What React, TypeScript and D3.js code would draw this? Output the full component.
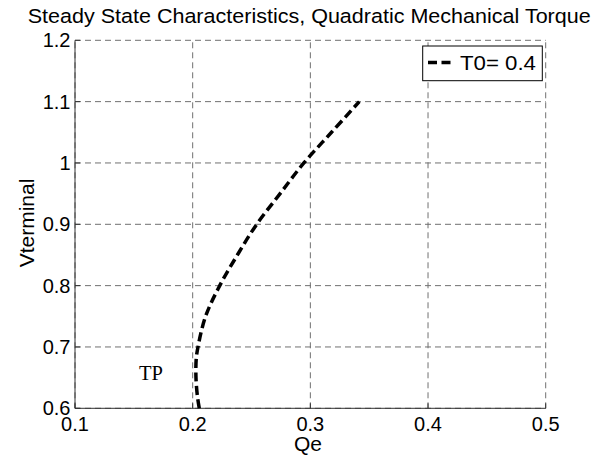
import React from "react";
import * as d3 from "d3";

const voltage = [0.6, 0.62, 0.65, 0.68, 0.7, 0.75, 0.8, 0.85, 0.9, 0.95, 1.0, 1.05, 1.1];
const qe = [0.2056, 0.204, 0.2028, 0.203, 0.2045, 0.211, 0.223, 0.238, 0.2544, 0.2743, 0.2945, 0.318, 0.3416];
const xTicks = [0.1, 0.2, 0.3, 0.4, 0.5];
const yTicks = [0.6, 0.7, 0.8, 0.9, 1.0, 1.1, 1.2];
const titleText = "Steady State Characteristics, Quadratic Mechanical Torque";
const xLabel = "Qe";
const yLabel = "Vterminal";
const legendLabel = "T0= 0.4";
const annotation = "TP";

const W = 610;
const H = 458;
const sans = "'Liberation Sans', Arial, Helvetica, sans-serif";

export default function App() {
  const x = d3.scaleLinear().domain([0.1, 0.5]).range([75, 545.7]);
  const y = d3.scaleLinear().domain([0.6, 1.2]).range([408.3, 40.3]);
  const pts: [number, number][] = voltage.map((v, i) => [qe[i], v]);
  const line = d3
    .line<[number, number]>()
    .x((d) => x(d[0]))
    .y((d) => y(d[1]))
    .curve(d3.curveCatmullRom.alpha(0.5));
  const [x0, x1] = x.range();
  const [y0, y1] = y.range();
  const gridColor = "#707070";
  const fmt = (v: number) => (Math.abs(v - 1) < 1e-9 ? "1" : d3.format(".1f")(v));

  return (
    <svg
      width={W}
      height={H}
      viewBox={`0 0 ${W} ${H}`}
      style={{ position: "absolute", left: 0, top: 0, background: "#fff" }}
    >
      <rect x={0} y={0} width={W} height={H} fill="#fff" />
      {/* grid */}
      {xTicks.map((t) => (
        <line
          key={"gx" + t}
          x1={x(t)}
          x2={x(t)}
          y1={y0}
          y2={y1}
          stroke={gridColor}
          strokeWidth={1}
          strokeDasharray="6,4"
        />
      ))}
      {yTicks.map((t) => (
        <line
          key={"gy" + t}
          x1={x0}
          x2={x1}
          y1={y(t)}
          y2={y(t)}
          stroke={gridColor}
          strokeWidth={1}
          strokeDasharray="6,4"
        />
      ))}
      {/* axes */}
      <line x1={x0} x2={x0} y1={y0} y2={y1} stroke="#333" strokeWidth={1} />
      <line x1={x0} x2={x1} y1={y0} y2={y0} stroke="#333" strokeWidth={1} />
      {yTicks.map((t) => (
        <line key={"ty" + t} x1={x0} x2={x0 + 5} y1={y(t)} y2={y(t)} stroke="#333" strokeWidth={1} />
      ))}
      {xTicks.map((t) => (
        <line key={"tx" + t} x1={x(t)} x2={x(t)} y1={y0} y2={y0 - 5} stroke="#333" strokeWidth={1} />
      ))}
      {/* tick labels */}
      {yTicks.map((t) => (
        <text
          key={"ly" + t}
          x={x0 - 4.5}
          y={y(t)}
          dy="0.35em"
          textAnchor="end"
          fontFamily={sans}
          fontSize={20}
          fill="#000"
        >
          {fmt(t)}
        </text>
      ))}
      {xTicks.map((t) => (
        <text
          key={"lx" + t}
          x={x(t)}
          y={430.5}
          textAnchor="middle"
          fontFamily={sans}
          fontSize={20}
          fill="#000"
        >
          {fmt(t)}
        </text>
      ))}
      {/* curve */}
      <path
        d={line(pts) || ""}
        fill="none"
        stroke="#000"
        strokeWidth={3.5}
        strokeDasharray="9,4.5"
      />
      {/* annotation */}
      <text x={139} y={380} fontFamily="'Liberation Serif', 'Times New Roman', serif" fontSize={20.5} fill="#000">
        {annotation}
      </text>
      {/* legend */}
      <rect x={422.7} y={46} width={119.6} height={34.7} fill="#fff" stroke="#000" strokeWidth={1} />
      <line x1={428} x2={455} y1={62.5} y2={62.5} stroke="#000" strokeWidth={3.5} strokeDasharray="9,4.5" />
      <text x={460} y={70} fontFamily={sans} fontSize={21} textLength={76} lengthAdjust="spacingAndGlyphs" fill="#000">
        {legendLabel}
      </text>
      {/* title & labels */}
      <text
        x={309.2}
        y={22.7}
        textAnchor="middle"
        fontFamily={sans}
        fontSize={20.5}
        textLength={563}
        lengthAdjust="spacingAndGlyphs"
        fill="#000"
      >
        {titleText}
      </text>
      <text x={308} y={451} textAnchor="middle" fontFamily={sans} fontSize={21} fill="#000">
        {xLabel}
      </text>
      <text
        transform="translate(33.5,223) rotate(-90)"
        textAnchor="middle"
        fontFamily={sans}
        fontSize={21}
        fill="#000"
      >
        {yLabel}
      </text>
    </svg>
  );
}
